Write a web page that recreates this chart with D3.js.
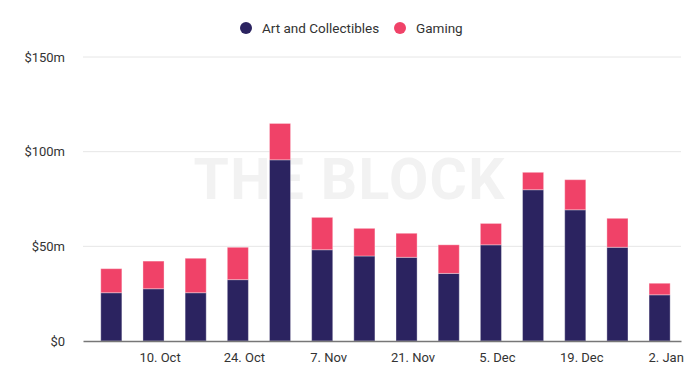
<!DOCTYPE html>
<html>
<head>
<meta charset="utf-8">
<script src="https://cdn.jsdelivr.net/npm/d3@7"></script>
<style>
  body { margin: 0; background: #fff; }
  text { font-family: Roboto, "Liberation Sans", sans-serif; }
</style>
</head>
<body>
<div id="chart"></div>
<script>
// Data (weekly, $m)
const weeks = ['2022-10-02', '2022-10-09', '2022-10-16', '2022-10-23', '2022-10-30',
  '2022-11-06', '2022-11-13', '2022-11-20', '2022-11-27', '2022-12-04',
  '2022-12-11', '2022-12-18', '2022-12-25', '2023-01-01']
const artCollectibles = [25.5, 27.6, 25.5, 32.4, 95.7, 48.2, 44.9, 44.2, 35.7, 50.8, 79.9, 69.3, 49.5, 24.4]
const gaming = [12.7, 14.6, 18.2, 17.1, 19.2, 17.1, 14.6, 12.7, 15.1, 11.3, 9.2, 15.9, 15.3, 6.1]
const seriesNames = ['Art and Collectibles', 'Gaming']
const seriesColors = ['#2b2360', '#f04268']
const tickDates = ['2022-10-10', '2022-10-24', '2022-11-07', '2022-11-21', '2022-12-05', '2022-12-19', '2023-01-02']
const yTicks = [0, 50, 100, 150]

const width = 700
const height = 378
const margin = { top: 57, right: 19, bottom: 37, left: 83 }
const ctrWidth = width - margin.left - margin.right
const ctrHeight = height - margin.top - margin.bottom

const parse = d3.utcParse('%Y-%m-%d')
const dataset = weeks.map((w, i) => ({
  date: parse(w),
  art: artCollectibles[i],
  gaming: gaming[i]
}))

const svg = d3.select('#chart')
  .append('svg')
  .attr('width', width)
  .attr('height', height)

const ctr = svg.append('g')
  .attr('transform', `translate(${margin.left}, ${margin.top})`)

// Scales
const day = 24 * 3600 * 1000
const xScale = d3.scaleUtc()
  .domain([new Date(parse(weeks[0]).getTime() - 4.7 * day),
    new Date(parse(weeks[weeks.length - 1]).getTime() + 3.55 * day)])
  .range([0, ctrWidth])

const yScale = d3.scaleLinear()
  .domain([0, 150])
  .range([ctrHeight, 0])

// Grid
ctr.append('g')
  .selectAll('line')
  .data(yTicks.slice(1))
  .join('line')
  .attr('x1', 0)
  .attr('x2', ctrWidth)
  .attr('y1', d => yScale(d))
  .attr('y2', d => yScale(d))
  .attr('stroke', '#e6e6e6')
  .attr('stroke-width', 1)

// Watermark
ctr.append('text')
  .attr('x', 349 - margin.left)
  .attr('y', 199 - margin.top)
  .attr('text-anchor', 'middle')
  .attr('font-family', '"Liberation Sans", Arial, sans-serif')
  .attr('font-weight', 'bold')
  .attr('font-size', 57)
  .attr('textLength', 311)
  .attr('fill', '#f2f2f2')
  .text('THE BLOCK')

// Stacked bars
const stack = d3.stack().keys(['art', 'gaming'])
const stacked = stack(dataset)
const barWidth = (xScale(parse(weeks[1])) - xScale(parse(weeks[0]))) * 0.5

ctr.append('g')
  .selectAll('g')
  .data(stacked)
  .join('g')
  .attr('fill', (d, i) => seriesColors[i])
  .selectAll('rect')
  .data(d => d)
  .join('rect')
  .attr('x', d => xScale(d.data.date) - barWidth / 2)
  .attr('width', barWidth)
  .attr('y', d => yScale(d[1]))
  .attr('height', d => yScale(d[0]) - yScale(d[1]))
  .attr('stroke', 'rgba(255,255,255,0.35)')
  .attr('stroke-width', 1)

// Axes
const xAxis = d3.axisBottom(xScale)
  .tickValues(tickDates.map(parse))
  .tickFormat(d3.utcFormat('%-d. %b'))
  .tickSize(0)
  .tickPadding(12)

ctr.append('g')
  .attr('transform', `translate(0, ${ctrHeight})`)
  .call(xAxis)
  .call(g => g.select('.domain').attr('stroke', '#777').attr('stroke-width', 1.5))
  .call(g => g.selectAll('text').attr('font-size', 13).attr('fill', '#333'))

const yAxis = d3.axisLeft(yScale)
  .tickValues(yTicks)
  .tickFormat(d => d === 0 ? '$0' : `$${d}m`)
  .tickSize(0)
  .tickPadding(18)

ctr.append('g')
  .call(yAxis)
  .call(g => g.select('.domain').remove())
  .call(g => g.selectAll('text').attr('font-size', 13).attr('fill', '#333'))

// Legend
const legend = svg.append('g')
const legendItems = [
  { name: seriesNames[0], color: seriesColors[0], x: 246 },
  { name: seriesNames[1], color: seriesColors[1], x: 400 }
]
legend.selectAll('circle')
  .data(legendItems)
  .join('circle')
  .attr('cx', d => d.x)
  .attr('cy', 28)
  .attr('r', 6)
  .attr('fill', d => d.color)
legend.selectAll('text')
  .data(legendItems)
  .join('text')
  .attr('x', d => d.x + 16)
  .attr('y', 28)
  .attr('dy', '0.35em')
  .attr('font-size', 13.5)
  .attr('fill', '#333')
  .text(d => d.name)
</script>
</body>
</html>
